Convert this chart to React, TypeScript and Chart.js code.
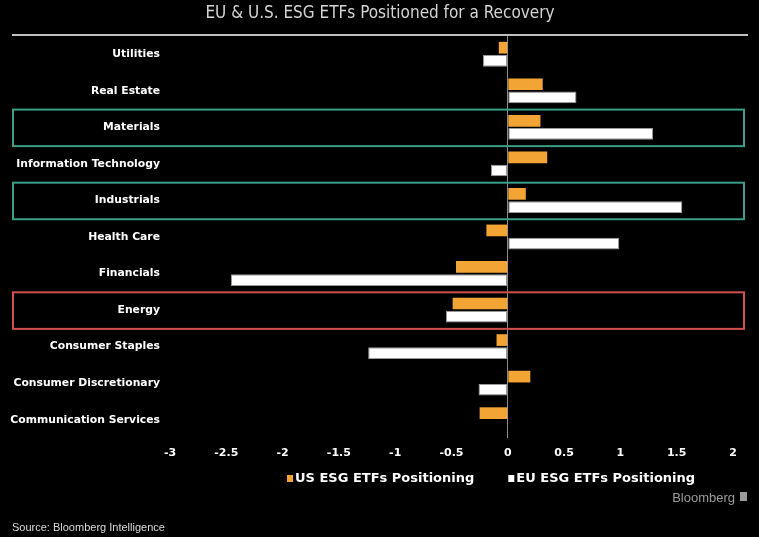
import { useEffect, useRef } from 'react';
import { Chart, registerables } from 'chart.js';

Chart.register(...registerables);

const categories = [
  'Utilities',
  'Real Estate',
  'Materials',
  'Information Technology',
  'Industrials',
  'Health Care',
  'Financials',
  'Energy',
  'Consumer Staples',
  'Consumer Discretionary',
  'Communication Services',
];
const usPositioning = [-0.08, 0.31, 0.29, 0.35, 0.16, -0.19, -0.46, -0.49, -0.1, 0.2, -0.25];
const euPositioning = [-0.22, 0.61, 1.29, -0.15, 1.55, 0.99, -2.46, -0.55, -1.24, -0.26, 0];
const seriesNames = ['US ESG ETFs Positioning', 'EU ESG ETFs Positioning'];
const xMin = -3;
const xMax = 2;
const xStep = 0.5;
const greenHighlights = ['Materials', 'Industrials'];
const redHighlights = ['Energy'];
const titleText = 'EU & U.S. ESG ETFs Positioned for a Recovery';
const sourceText = 'Source: Bloomberg Intelligence';
const brandText = 'Bloomberg';

const ORANGE = '#F2A435';
const WHITE = '#FFFFFF';
const GREEN = '#3A9E87';
const RED = '#D0504A';
const BOLD_FONT = '"DejaVu Sans", Verdana, sans-serif';

const overlayPlugin = {
  id: 'overlay',
  beforeDraw(chart: any) {
    const { ctx, width, height } = chart;
    ctx.save();
    ctx.fillStyle = '#000';
    ctx.fillRect(0, 0, width, height);
    ctx.restore();
  },
  afterDatasetsDraw(chart: any) {
    const { ctx } = chart;
    const y = chart.scales.y;
    const half = (y.getPixelForValue(1) - y.getPixelForValue(0)) / 2;
    const drawBox = (label: string, color: string) => {
      const i = categories.indexOf(label);
      if (i < 0) return;
      const c = y.getPixelForValue(i);
      ctx.save();
      ctx.strokeStyle = color;
      ctx.lineWidth = 2;
      ctx.strokeRect(13, c - half + 0.5, 731, half * 2);
      ctx.restore();
    };
    greenHighlights.forEach((l) => drawBox(l, GREEN));
    redHighlights.forEach((l) => drawBox(l, RED));
  },
  afterDraw(chart: any) {
    const { ctx } = chart;
    ctx.save();
    // title
    ctx.fillStyle = '#D4D4D4';
    ctx.font = '17px "Liberation Sans Narrow", "DejaVu Sans Condensed", sans-serif';
    ctx.textAlign = 'center';
    ctx.textBaseline = 'middle';
    ctx.fillText(titleText, 380, 14);
    ctx.strokeStyle = '#FFFFFF';
    ctx.lineWidth = 1.5;
    ctx.beginPath();
    ctx.moveTo(12, 35);
    ctx.lineTo(748, 35);
    ctx.stroke();

    // legend
    ctx.font = 'bold 13px ' + BOLD_FONT;
    ctx.textAlign = 'left';
    const colors = [ORANGE, WHITE];
    let x = 287;
    const ly = 478;
    seriesNames.forEach((name, i) => {
      ctx.fillStyle = colors[i];
      ctx.fillRect(x, ly - 3, 6, 7);
      ctx.fillStyle = '#FFFFFF';
      ctx.fillText(name, x + 8, ly + 1);
      x += 8 + ctx.measureText(name).width + 34;
    });

    // brand
    ctx.fillStyle = '#9A9A9A';
    ctx.font = '13px "Liberation Sans", Arial, sans-serif';
    ctx.textAlign = 'right';
    ctx.fillText(brandText, 735, 498);
    ctx.fillRect(740, 492, 7, 9);

    // source
    ctx.fillStyle = '#DADADA';
    ctx.font = '11px "Liberation Sans", Arial, sans-serif';
    ctx.textAlign = 'left';
    ctx.fillText(sourceText, 12, 528);
    ctx.restore();
  },
};

export default function App() {
  const canvasRef = useRef<HTMLCanvasElement | null>(null);

  useEffect(() => {
    if (!canvasRef.current) return;
    const chart = new Chart(canvasRef.current, {
      type: 'bar',
      data: {
        labels: categories,
        datasets: [
          {
            label: seriesNames[0],
            data: usPositioning,
            backgroundColor: ORANGE,
            categoryPercentage: 0.72,
            barPercentage: 0.89,
          },
          {
            label: seriesNames[1],
            data: euPositioning,
            backgroundColor: WHITE,
            borderColor: '#9a9a9a',
            borderWidth: 1,
            borderSkipped: false,
            categoryPercentage: 0.72,
            barPercentage: 0.89,
          },
        ],
      },
      options: {
        indexAxis: 'y',
        animation: false,
        responsive: true,
        maintainAspectRatio: false,
        layout: { padding: { top: 36, left: 0, right: 26, bottom: 0 } },
        plugins: {
          legend: { display: false },
          title: { display: false },
          tooltip: { enabled: false },
        },
        scales: {
          x: {
            type: 'linear',
            min: xMin,
            max: xMax,
            ticks: {
              stepSize: xStep,
              color: '#FFFFFF',
              font: { family: BOLD_FONT, size: 11, weight: 'bold' },
              padding: 9,
              callback: (v: any) => String(v),
            },
            grid: {
              color: (ctx: any) => (ctx.tick && ctx.tick.value === 0 ? '#8C8C8C' : 'transparent'),
              lineWidth: 1,
              drawTicks: false,
            },
            border: { display: false },
            afterFit: (scale: any) => {
              scale.height = 99;
            },
          },
          y: {
            ticks: {
              color: '#FFFFFF',
              font: { family: BOLD_FONT, size: 10.8, weight: 'bold' },
              padding: 2,
            },
            grid: { display: false },
            border: { display: false },
            afterFit: (scale: any) => {
              scale.width = 170;
            },
          },
        },
      },
      plugins: [overlayPlugin],
    });
    return () => chart.destroy();
  }, []);

  return (
    <div style={{ position: 'fixed', left: 0, top: 0, width: 759, height: 537, background: '#000' }}>
      <canvas ref={canvasRef} />
    </div>
  );
}
